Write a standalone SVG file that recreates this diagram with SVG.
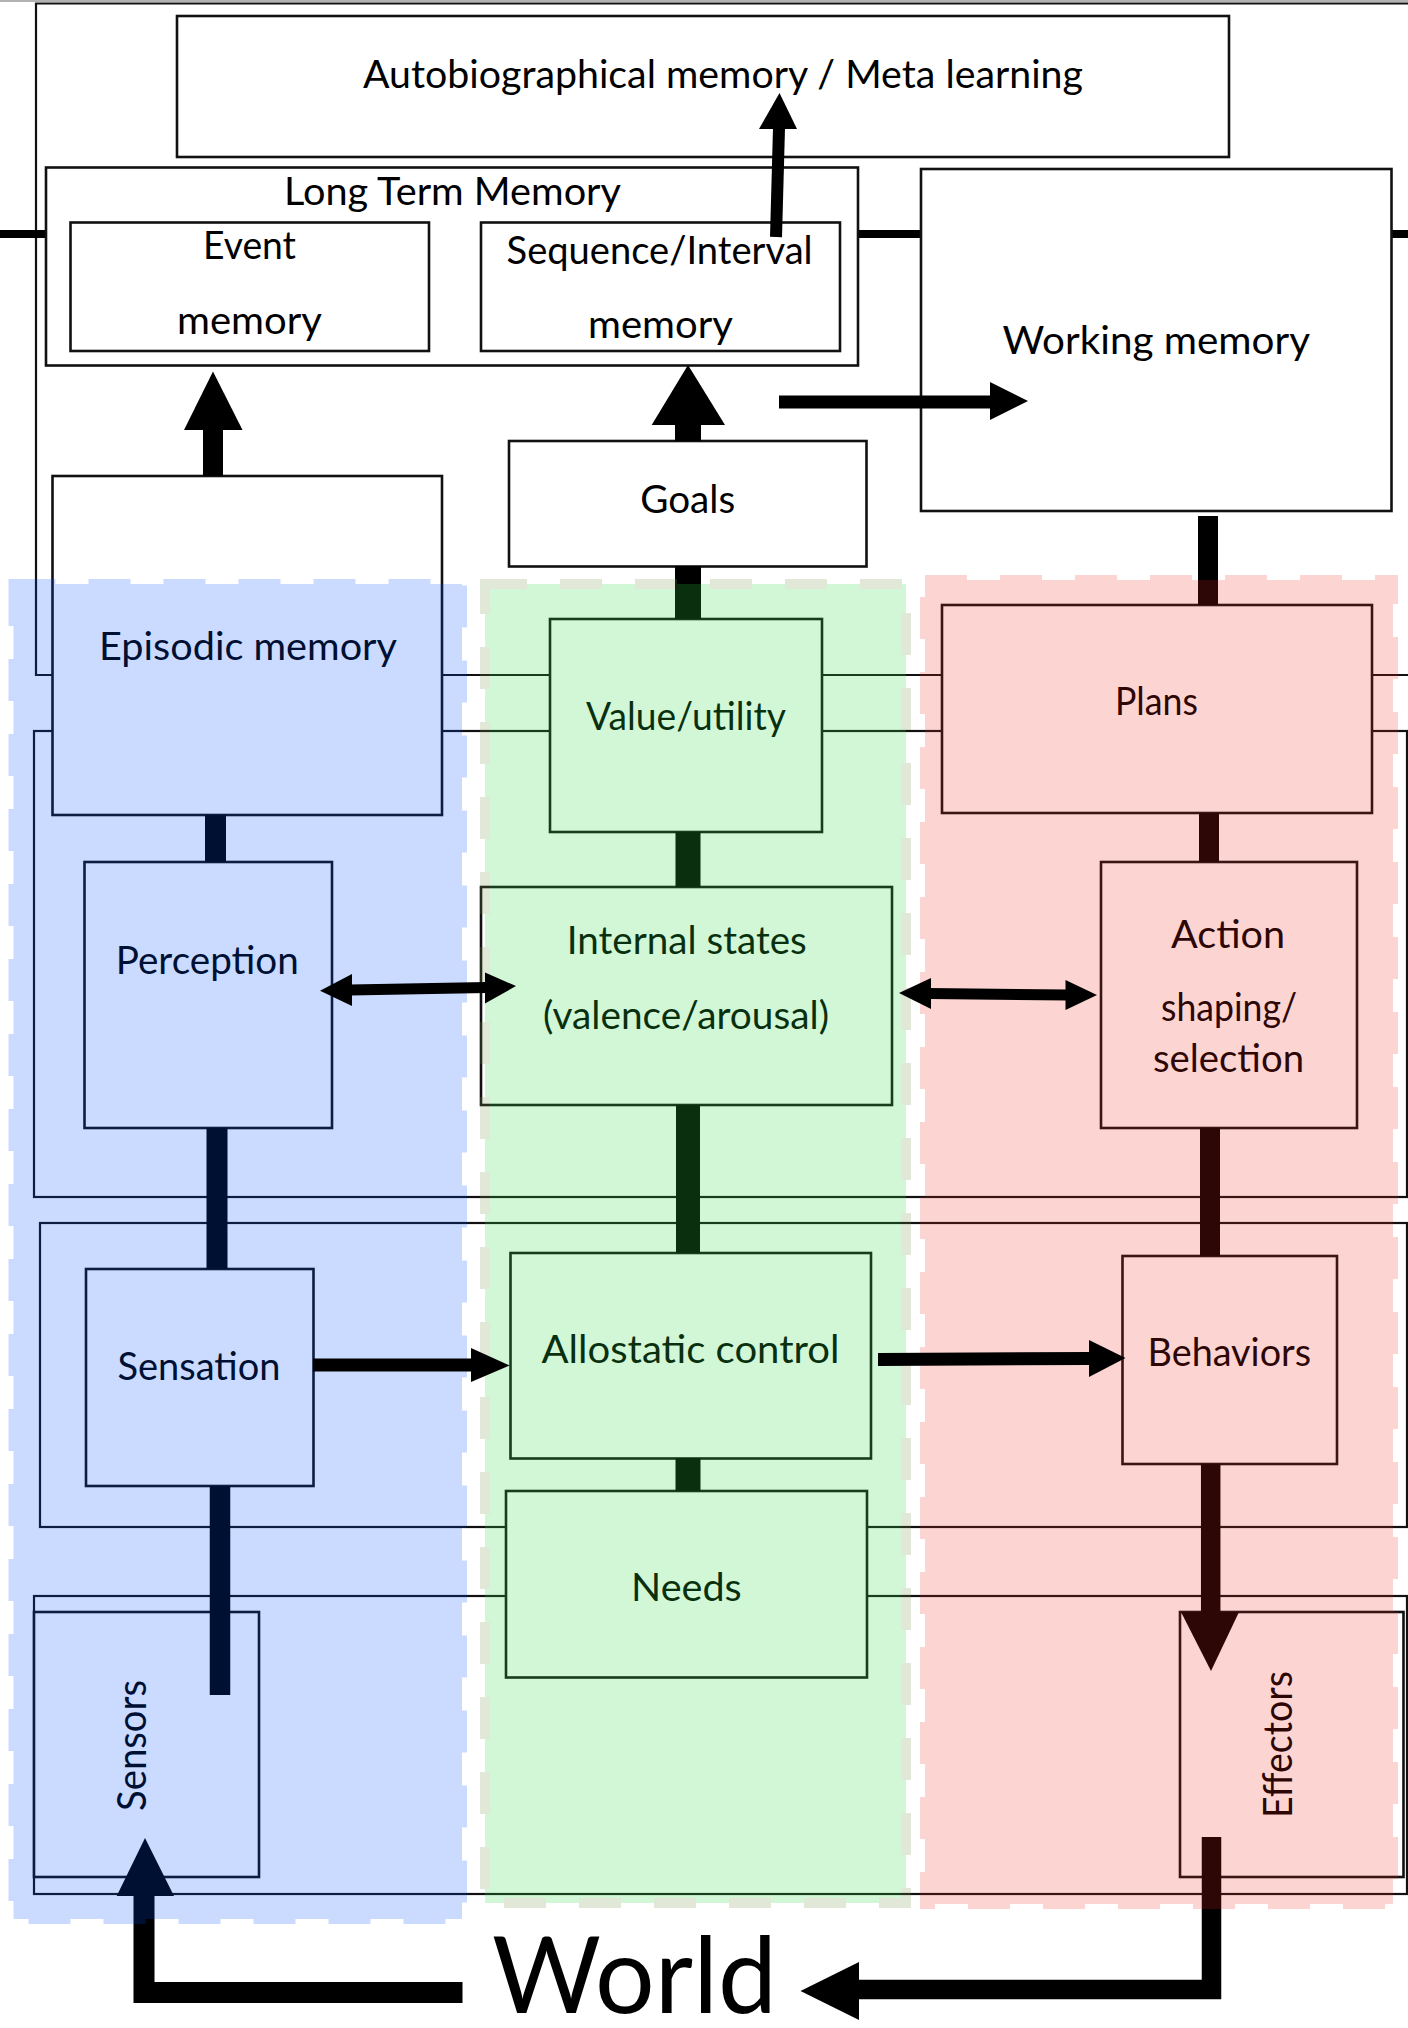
<svg xmlns="http://www.w3.org/2000/svg" width="1408" height="2028" viewBox="0 0 1408 2028">
<style>
text{font-family:Lato,"Open Sans","Liberation Sans",sans-serif;font-size:38px;fill:#000;text-anchor:middle}
.layer{fill:none;stroke:#111;stroke-width:2.2}
.box{fill:#fff;stroke:#111;stroke-width:2.6}
.thick{fill:none;stroke:#000;stroke-linecap:butt;stroke-linejoin:miter}
.head{fill:#000;stroke:none}
.ov{stroke-width:10;stroke-dasharray:42 33}
</style>
<rect x="0" y="0" width="1408" height="2028" fill="#fff"/>
<g id="layers">
<line x1="0" y1="1" x2="1408" y2="1" stroke="#999" stroke-width="1.5"/>
<path class="layer" d="M1420,3.5 H36 V675 H1420"/>
<rect class="layer" x="34" y="731" width="1373" height="466"/>
<rect class="layer" x="40" y="1223" width="1367" height="304"/>
<rect class="layer" x="34" y="1596" width="1373" height="298"/>
<line x1="0" y1="234" x2="1408" y2="234" stroke="#000" stroke-width="8"/>
</g>
<g id="autobio"><rect class="box" x="177" y="16" width="1052" height="141"/><text x="723" y="88.4" textLength="720" lengthAdjust="spacingAndGlyphs">Autobiographical memory / Meta learning</text></g>
<g id="ltm"><rect class="box" x="46" y="167.5" width="812" height="198"/><text x="452.5" y="205" textLength="337" lengthAdjust="spacingAndGlyphs">Long Term Memory</text></g>
<g id="event-memory"><rect class="box" x="70.5" y="222.5" width="358.5" height="128.5"/><text x="249.5" y="258.6" textLength="93" lengthAdjust="spacingAndGlyphs">Event</text><text x="249.5" y="334" textLength="145" lengthAdjust="spacingAndGlyphs">memory</text></g>
<g id="sequence-memory"><rect class="box" x="481" y="222.5" width="359" height="128.5"/><text x="659.6" y="263.8" textLength="306" lengthAdjust="spacingAndGlyphs">Sequence/Interval</text><text x="660.5" y="338" textLength="145" lengthAdjust="spacingAndGlyphs">memory</text></g>
<g id="goals"><rect class="box" x="509" y="441" width="357.5" height="125.5"/><text x="687.7" y="513" textLength="95" lengthAdjust="spacingAndGlyphs">Goals</text></g>
<g id="working-memory"><rect class="box" x="921" y="169" width="470.5" height="342"/><text x="1156.3" y="353.5" textLength="307.5" lengthAdjust="spacingAndGlyphs">Working memory</text></g>
<g id="episodic-memory"><rect class="box" x="52.5" y="476" width="389.5" height="339"/><text x="248" y="659.6" textLength="298" lengthAdjust="spacingAndGlyphs">Episodic memory</text></g>
<g id="value-utility"><rect class="box" x="550" y="619" width="272" height="213"/><text x="686" y="730" textLength="200" lengthAdjust="spacingAndGlyphs">Value/utility</text></g>
<g id="plans"><rect class="box" x="942" y="605" width="430" height="208"/><text x="1156.5" y="715" textLength="83" lengthAdjust="spacingAndGlyphs">Plans</text></g>
<g id="perception"><rect class="box" x="84.5" y="862" width="247.5" height="266"/><text x="207.3" y="973.5" textLength="183" lengthAdjust="spacingAndGlyphs">Perception</text></g>
<g id="internal-states"><rect class="box" x="481" y="887" width="411" height="218"/><text x="686.8" y="954" textLength="240" lengthAdjust="spacingAndGlyphs">Internal states</text><text x="686" y="1029" textLength="286" lengthAdjust="spacingAndGlyphs">(valence/arousal)</text></g>
<g id="action"><rect class="box" x="1101" y="862" width="256" height="266"/><text x="1228" y="947.6" textLength="114" lengthAdjust="spacingAndGlyphs">Action</text><text x="1229" y="1021" textLength="136" lengthAdjust="spacingAndGlyphs">shaping/</text><text x="1228.5" y="1071.7" textLength="151" lengthAdjust="spacingAndGlyphs">selection</text></g>
<g id="sensation"><rect class="box" x="86" y="1269" width="227.5" height="217"/><text x="199" y="1380" textLength="163" lengthAdjust="spacingAndGlyphs">Sensation</text></g>
<g id="allostatic-control"><rect class="box" x="510.5" y="1253" width="360.5" height="205.5"/><text x="690.5" y="1362.6" textLength="298" lengthAdjust="spacingAndGlyphs">Allostatic control</text></g>
<g id="behaviors"><rect class="box" x="1122.5" y="1256" width="214.5" height="208"/><text x="1229.3" y="1366.3" textLength="163.5" lengthAdjust="spacingAndGlyphs">Behaviors</text></g>
<g id="needs"><rect class="box" x="506" y="1491" width="361" height="186.5"/><text x="686.4" y="1601" textLength="110.7" lengthAdjust="spacingAndGlyphs">Needs</text></g>
<g id="sensors"><rect class="box" x="34" y="1612" width="225" height="265"/><text transform="translate(146,1745.5) rotate(-90)" x="0" y="0" style="font-size:40px" textLength="131" lengthAdjust="spacingAndGlyphs">Sensors</text></g>
<g id="effectors"><rect class="box" x="1180" y="1612" width="223.5" height="265"/><text transform="translate(1292,1744.5) rotate(-90)" x="0" y="0" style="font-size:40px" textLength="147" lengthAdjust="spacingAndGlyphs">Effectors</text></g>
<g id="world"><text x="634.5" y="2013" style="font-size:106px" textLength="285" lengthAdjust="spacingAndGlyphs">World</text></g>
<g id="connectors">
<line class="thick" x1="213" y1="476" x2="213" y2="429" stroke-width="20"/>
<polygon class="head" points="184,430 242.5,430 213,371.6"/>
<line class="thick" x1="688" y1="441" x2="688" y2="424" stroke-width="26"/>
<polygon class="head" points="651.7,425 725,425 688,365"/>
<line class="thick" x1="776" y1="237" x2="779" y2="128" stroke-width="12"/>
<polygon class="head" points="759,129 797,129 779.5,93"/>
<line class="thick" x1="779" y1="402" x2="991" y2="402" stroke-width="13"/>
<polygon class="head" points="990,382 1028,401 990,420"/>
<line class="thick" x1="1208" y1="516" x2="1208" y2="605" stroke-width="20"/>
<line class="thick" x1="688" y1="566" x2="688" y2="619" stroke-width="26"/>
<line class="thick" x1="215.5" y1="815" x2="215.5" y2="862" stroke-width="21"/>
<line class="thick" x1="688" y1="832" x2="688" y2="887" stroke-width="25"/>
<line class="thick" x1="1209" y1="813" x2="1209" y2="862" stroke-width="20"/>
<line class="thick" x1="217" y1="1128" x2="217" y2="1269" stroke-width="21"/>
<line class="thick" x1="688" y1="1105" x2="688" y2="1253" stroke-width="24"/>
<line class="thick" x1="1210" y1="1128" x2="1210" y2="1256" stroke-width="20"/>
<line class="thick" x1="688" y1="1458" x2="688" y2="1491" stroke-width="25"/>
<line class="thick" x1="220" y1="1486" x2="220" y2="1695" stroke-width="20.5"/>
<line class="thick" x1="1210.7" y1="1464" x2="1210.7" y2="1613" stroke-width="19.5"/>
<polygon class="head" points="1181,1612 1239,1612 1211,1671"/>
<path class="thick" d="M1211.5,1837 V1989.5 H858" stroke-width="19.5"/>
<polygon class="head" points="859,1962 859,2020 800.5,1991"/>
<path class="thick" d="M462.5,1992.5 H144 V1895" stroke-width="21"/>
<polygon class="head" points="116.7,1896 174,1896 145,1838"/>
</g>
<g id="overlays">
<g opacity="0.2"><rect class="ov" x="13.5" y="584" width="448.5" height="1335" fill="rgb(0,80,255)" stroke="rgb(0,80,255)"/></g>
<g opacity="0.21"><rect class="ov" x="485" y="584" width="421" height="1319" fill="rgb(50,222,72)" stroke="rgb(120,150,70)"/></g>
<g opacity="0.19"><rect class="ov" x="925" y="580" width="468" height="1324" fill="rgb(240,40,30)" stroke="rgb(240,40,30)"/></g>
</g>
<g id="connectors-front">
<line class="thick" x1="350" y1="990" x2="487" y2="987.5" stroke-width="11"/>
<polygon class="head" points="320,990.7 352,974 352,1006"/>
<polygon class="head" points="516,986 485,972.5 485,1003.5"/>
<line class="thick" x1="929" y1="993.5" x2="1067" y2="995" stroke-width="11"/>
<polygon class="head" points="899,993 931,978 931,1009"/>
<polygon class="head" points="1097,995 1065.5,980 1065.5,1010"/>
<line class="thick" x1="313" y1="1365" x2="472" y2="1365" stroke-width="13"/>
<polygon class="head" points="471,1348 509.6,1365.5 471,1382"/>
<line class="thick" x1="878" y1="1359.5" x2="1090" y2="1358.5" stroke-width="13"/>
<polygon class="head" points="1089,1340 1125.5,1358 1089,1377"/>
</g>
</svg>
